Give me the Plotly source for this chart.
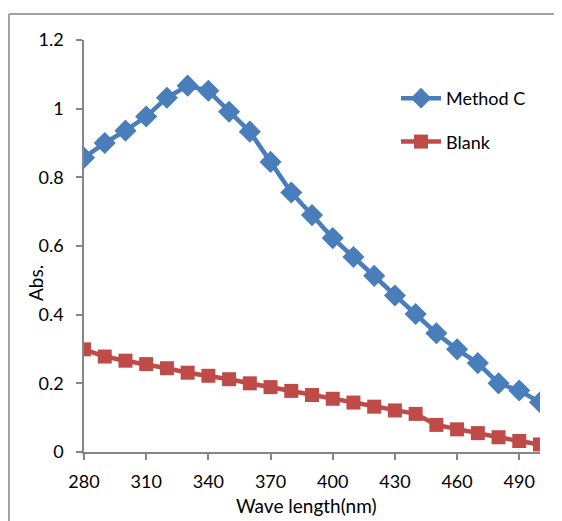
import plotly.graph_objects as go

wavelength = [280, 290, 300, 310, 320, 330, 340, 350, 360, 370, 380, 390,
              400, 410, 420, 430, 440, 450, 460, 470, 480, 490, 500]
method_c = [0.857, 0.900, 0.936, 0.977, 1.032, 1.067, 1.052, 0.991, 0.933,
            0.845, 0.756, 0.690, 0.623, 0.568, 0.513, 0.456, 0.402, 0.346,
            0.299, 0.259, 0.200, 0.179, 0.145]
blank = [0.299, 0.278, 0.266, 0.256, 0.244, 0.231, 0.222, 0.212, 0.200,
         0.189, 0.178, 0.166, 0.155, 0.144, 0.132, 0.121, 0.111, 0.079,
         0.066, 0.055, 0.043, 0.032, 0.022]
x_ticks = [280, 310, 340, 370, 400, 430, 460, 490]
y_ticks = [0, 0.2, 0.4, 0.6, 0.8, 1, 1.2]

FONT = "Lato, Open Sans, sans-serif"
AX = "#868686"

# figure sits at (8, 8) in the page because of the body margin
W, H = 554, 513
L, T = 76, 32
PW, PH = 456, 412
R = W - L - PW
B = H - T - PH


def px(xf):
    return (xf - L) / PW


def py(yf):
    return (T + PH - yf) / PH


fig = go.Figure()
fig.add_trace(go.Scatter(
    x=wavelength, y=method_c, name="Method C", mode="lines+markers",
    legendgroup="a",
    line=dict(color="#4A7EBB", width=4.5),
    marker=dict(symbol="diamond", size=17, color="#4A7EBB"),
))
fig.add_trace(go.Scatter(
    x=wavelength, y=blank, name="Blank", mode="lines+markers",
    legendgroup="b",
    line=dict(color="#BE4B48", width=4.5),
    marker=dict(symbol="square", size=14, color="#BE4B48"),
))

fig.update_layout(
    width=W, height=H,
    margin=dict(l=L, r=R, t=T, b=B),
    paper_bgcolor="white", plot_bgcolor="white",
    font=dict(family=FONT, size=18, color="black"),
    showlegend=True,
    legend=dict(x=px(388), y=py(72), xanchor="left", yanchor="top",
                bgcolor="rgba(0,0,0,0)", font=dict(size=18),
                tracegroupgap=17, itemwidth=40),
    xaxis=dict(range=[280, 500], tickmode="array", tickvals=x_ticks,
               ticktext=[str(v) for v in x_ticks],
               showgrid=False, zeroline=False, showline=True,
               linecolor=AX, linewidth=1.5, ticks="outside",
               tickcolor=AX, ticklen=6, tickwidth=1.5,
               ticklabelstandoff=7, tickfont=dict(size=18)),
    yaxis=dict(range=[0, 1.2], tickmode="array", tickvals=y_ticks,
               showgrid=False, zeroline=False, showline=True,
               linecolor=AX, linewidth=1.5, ticks="outside",
               tickcolor=AX, ticklen=6, tickwidth=1.5,
               ticklabelstandoff=9, tickfont=dict(size=18)),
    shapes=[
        dict(type="line", xref="paper", yref="paper",
             x0=px(1), x1=1.5, y0=py(6), y1=py(6),
             line=dict(color=AX, width=1.5), layer="below"),
        dict(type="line", xref="paper", yref="paper",
             x0=px(1), x1=px(1), y0=py(6), y1=-0.5,
             line=dict(color=AX, width=1.5), layer="below"),
    ],
    annotations=[
        dict(text="Abs.", xref="paper", yref="paper",
             x=px(27), y=py(275), xanchor="center", yanchor="middle",
             showarrow=False, textangle=-90, font=dict(size=19)),
        dict(text="Wave length(nm)", xref="paper", yref="paper",
             x=px(298), y=py(497), xanchor="center", yanchor="middle",
             showarrow=False, font=dict(size=19)),
    ],
)

fig.write_html("out.html")
